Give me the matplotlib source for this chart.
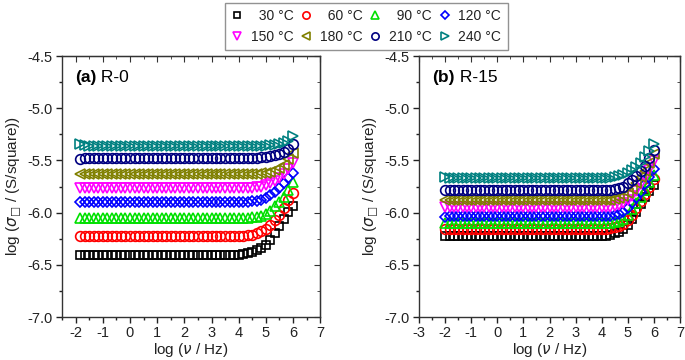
import matplotlib
matplotlib.use("Agg")
import matplotlib.pyplot as plt
from matplotlib.ticker import MultipleLocator

plt.rcParams["font.family"] = ["Liberation Sans", "DejaVu Sans"]
plt.rcParams["axes.unicode_minus"] = False

# figure space pads the two-digit labels so they line up on the right
TEMPS = ["\u200730 °C", "\u200760 °C", "\u200790 °C", "120 °C",
         "150 °C", "180 °C", "210 °C", "240 °C"]

# log frequency, R-0 sweep
x_r0 = [
    -1.83, -1.67, -1.50, -1.33, -1.17, -1.00, -0.83, -0.67, -0.50, -0.33, -0.17, 0.00,
    0.17, 0.33, 0.50, 0.67, 0.83, 1.00, 1.17, 1.33, 1.50, 1.67, 1.83, 2.00,
    2.17, 2.33, 2.50, 2.67, 2.83, 3.00, 3.17, 3.33, 3.50, 3.67, 3.83, 4.00,
    4.17, 4.33, 4.50, 4.67, 4.83, 5.00, 5.17, 5.33, 5.50, 5.67, 5.83, 6.00,
]

# log frequency, R-15 sweep
x_r15 = [
    -2.00, -1.83, -1.67, -1.50, -1.33, -1.17, -1.00, -0.83, -0.67, -0.50, -0.33, -0.17,
    0.00, 0.17, 0.33, 0.50, 0.67, 0.83, 1.00, 1.17, 1.33, 1.50, 1.67, 1.83,
    2.00, 2.17, 2.33, 2.50, 2.67, 2.83, 3.00, 3.17, 3.33, 3.50, 3.67, 3.83,
    4.00, 4.17, 4.33, 4.50, 4.67, 4.83, 5.00, 5.17, 5.33, 5.50, 5.67, 5.83,
    6.00,
]

# R-0 conductivity, one list per temperature
r0_30 = [
    -6.41, -6.41, -6.41, -6.41, -6.41, -6.41, -6.41,
    -6.41, -6.41, -6.41, -6.41, -6.41, -6.41, -6.41,
    -6.41, -6.41, -6.41, -6.41, -6.41, -6.41, -6.41,
    -6.41, -6.41, -6.41, -6.41, -6.41, -6.41, -6.41,
    -6.41, -6.41, -6.41, -6.41, -6.41, -6.41, -6.41,
    -6.41, -6.40, -6.39, -6.38, -6.36, -6.34, -6.31, -6.26, -6.20, -6.13, -6.06, -5.99, -5.94,
]
r0_60 = [
    -6.22, -6.22, -6.22, -6.22, -6.22, -6.22, -6.22,
    -6.22, -6.22, -6.22, -6.22, -6.22, -6.22, -6.22,
    -6.22, -6.22, -6.22, -6.22, -6.22, -6.22, -6.22,
    -6.22, -6.22, -6.22, -6.22, -6.22, -6.22, -6.22,
    -6.22, -6.22, -6.22, -6.22, -6.22, -6.22, -6.22,
    -6.22, -6.22, -6.21, -6.21, -6.20, -6.18, -6.16, -6.12, -6.07, -6.02, -5.96, -5.88, -5.81,
]
r0_90 = [
    -6.05, -6.05, -6.05, -6.05, -6.05, -6.05, -6.05,
    -6.05, -6.05, -6.05, -6.05, -6.05, -6.05, -6.05,
    -6.05, -6.05, -6.05, -6.05, -6.05, -6.05, -6.05,
    -6.05, -6.05, -6.05, -6.05, -6.05, -6.05, -6.05,
    -6.05, -6.05, -6.05, -6.05, -6.05, -6.05, -6.05,
    -6.05, -6.05, -6.05, -6.04, -6.04, -6.03, -6.01, -5.98, -5.94, -5.90, -5.85, -5.78, -5.71,
]
r0_120 = [
    -5.90, -5.90, -5.90, -5.90, -5.90, -5.90, -5.90,
    -5.90, -5.90, -5.90, -5.90, -5.90, -5.90, -5.90,
    -5.90, -5.90, -5.90, -5.90, -5.90, -5.90, -5.90,
    -5.90, -5.90, -5.90, -5.90, -5.90, -5.90, -5.90,
    -5.90, -5.90, -5.90, -5.90, -5.90, -5.90, -5.90,
    -5.90, -5.90, -5.90, -5.89, -5.89, -5.88, -5.86, -5.83, -5.80, -5.76, -5.72, -5.67, -5.62,
]
r0_150 = [
    -5.76, -5.76, -5.76, -5.76, -5.76, -5.76, -5.76,
    -5.76, -5.76, -5.76, -5.76, -5.76, -5.76, -5.76,
    -5.76, -5.76, -5.76, -5.76, -5.76, -5.76, -5.76,
    -5.76, -5.76, -5.76, -5.76, -5.76, -5.76, -5.76,
    -5.76, -5.76, -5.76, -5.76, -5.76, -5.76, -5.76,
    -5.76, -5.76, -5.76, -5.76, -5.75, -5.75, -5.74, -5.72, -5.70, -5.67, -5.63, -5.58, -5.52,
]
r0_180 = [
    -5.63, -5.63, -5.63, -5.63, -5.63, -5.63, -5.63,
    -5.63, -5.63, -5.63, -5.63, -5.63, -5.63, -5.63,
    -5.63, -5.63, -5.63, -5.63, -5.63, -5.63, -5.63,
    -5.63, -5.63, -5.63, -5.63, -5.63, -5.63, -5.63,
    -5.63, -5.63, -5.63, -5.63, -5.63, -5.63, -5.63,
    -5.63, -5.63, -5.63, -5.63, -5.63, -5.62, -5.62, -5.61, -5.59, -5.57, -5.54, -5.49, -5.43,
]
r0_210 = [
    -5.49, -5.48, -5.48, -5.48, -5.48, -5.48, -5.48,
    -5.48, -5.48, -5.48, -5.48, -5.48, -5.48, -5.48,
    -5.48, -5.48, -5.48, -5.48, -5.48, -5.48, -5.48,
    -5.48, -5.48, -5.48, -5.48, -5.48, -5.48, -5.48,
    -5.48, -5.48, -5.48, -5.48, -5.48, -5.48, -5.48,
    -5.48, -5.48, -5.48, -5.48, -5.48, -5.47, -5.47, -5.46, -5.45, -5.44, -5.42, -5.39, -5.34,
]
r0_240 = [
    -5.34, -5.35, -5.36, -5.36, -5.36, -5.36, -5.36,
    -5.36, -5.36, -5.36, -5.36, -5.36, -5.36, -5.36,
    -5.36, -5.36, -5.36, -5.36, -5.36, -5.36, -5.36,
    -5.36, -5.36, -5.36, -5.36, -5.36, -5.36, -5.36,
    -5.36, -5.36, -5.36, -5.36, -5.36, -5.36, -5.36,
    -5.36, -5.36, -5.36, -5.36, -5.36, -5.36, -5.36, -5.35, -5.35, -5.34, -5.33, -5.31, -5.27,
]

# R-15 conductivity
r15_30 = [
    -6.22, -6.22, -6.22, -6.22, -6.22, -6.22,
    -6.22, -6.22, -6.22, -6.22, -6.22, -6.22,
    -6.22, -6.22, -6.22, -6.22, -6.22, -6.22,
    -6.22, -6.22, -6.22, -6.22, -6.22, -6.22,
    -6.22, -6.22, -6.22, -6.22, -6.22, -6.22,
    -6.22, -6.22, -6.22, -6.22, -6.22, -6.22,
    -6.22, -6.22, -6.21, -6.20, -6.19, -6.16, -6.12, -6.06, -5.99, -5.92, -5.85, -5.79, -5.74,
]
r15_60 = [
    -6.16, -6.16, -6.16, -6.16, -6.16, -6.16,
    -6.16, -6.16, -6.16, -6.16, -6.16, -6.16,
    -6.16, -6.16, -6.16, -6.16, -6.16, -6.16,
    -6.16, -6.16, -6.16, -6.16, -6.16, -6.16,
    -6.16, -6.16, -6.16, -6.16, -6.16, -6.16,
    -6.16, -6.16, -6.16, -6.16, -6.16, -6.16,
    -6.16, -6.16, -6.15, -6.14, -6.13, -6.11, -6.07, -6.02, -5.96, -5.89, -5.82, -5.75, -5.68,
]
r15_90 = [
    -6.10, -6.10, -6.10, -6.10, -6.10, -6.10,
    -6.10, -6.10, -6.10, -6.10, -6.10, -6.10,
    -6.10, -6.10, -6.10, -6.10, -6.10, -6.10,
    -6.10, -6.10, -6.10, -6.10, -6.10, -6.10,
    -6.10, -6.10, -6.10, -6.10, -6.10, -6.10,
    -6.10, -6.10, -6.10, -6.10, -6.10, -6.10,
    -6.10, -6.10, -6.10, -6.09, -6.08, -6.06, -6.02, -5.97, -5.91, -5.85, -5.78, -5.71, -5.64,
]
r15_120 = [
    -6.04, -6.03, -6.03, -6.03, -6.03, -6.03,
    -6.03, -6.03, -6.03, -6.03, -6.03, -6.03,
    -6.03, -6.03, -6.03, -6.03, -6.03, -6.03,
    -6.03, -6.03, -6.03, -6.03, -6.03, -6.03,
    -6.03, -6.03, -6.03, -6.03, -6.03, -6.03,
    -6.03, -6.03, -6.03, -6.03, -6.03, -6.03,
    -6.03, -6.03, -6.03, -6.02, -6.01, -5.99, -5.96, -5.91, -5.86, -5.80, -5.73, -5.66, -5.58,
]
r15_150 = [
    -5.95, -5.95, -5.95, -5.95, -5.95, -5.95,
    -5.95, -5.95, -5.95, -5.95, -5.95, -5.95,
    -5.95, -5.95, -5.95, -5.95, -5.95, -5.95,
    -5.95, -5.95, -5.95, -5.95, -5.95, -5.95,
    -5.95, -5.95, -5.95, -5.95, -5.95, -5.95,
    -5.95, -5.95, -5.95, -5.95, -5.95, -5.95,
    -5.95, -5.95, -5.95, -5.94, -5.93, -5.91, -5.88, -5.84, -5.79, -5.73, -5.67, -5.59, -5.51,
]
r15_180 = [
    -5.88, -5.88, -5.88, -5.88, -5.88, -5.88,
    -5.88, -5.88, -5.88, -5.88, -5.88, -5.88,
    -5.88, -5.88, -5.88, -5.88, -5.88, -5.88,
    -5.88, -5.88, -5.88, -5.88, -5.88, -5.88,
    -5.88, -5.88, -5.88, -5.88, -5.88, -5.88,
    -5.88, -5.88, -5.88, -5.88, -5.88, -5.88,
    -5.88, -5.88, -5.88, -5.87, -5.86, -5.84, -5.81, -5.77, -5.72, -5.66, -5.60, -5.52, -5.44,
]
r15_210 = [
    -5.78, -5.78, -5.78, -5.78, -5.78, -5.78,
    -5.78, -5.78, -5.78, -5.78, -5.78, -5.78,
    -5.78, -5.78, -5.78, -5.78, -5.78, -5.78,
    -5.78, -5.78, -5.78, -5.78, -5.78, -5.78,
    -5.78, -5.78, -5.78, -5.78, -5.78, -5.78,
    -5.78, -5.78, -5.78, -5.78, -5.78, -5.78,
    -5.78, -5.78, -5.78, -5.77, -5.76, -5.75, -5.72, -5.69, -5.65, -5.60, -5.55, -5.48, -5.40,
]
r15_240 = [
    -5.66, -5.67, -5.67, -5.67, -5.67, -5.67,
    -5.67, -5.67, -5.67, -5.67, -5.67, -5.67,
    -5.67, -5.67, -5.67, -5.67, -5.67, -5.67,
    -5.67, -5.67, -5.67, -5.67, -5.67, -5.67,
    -5.67, -5.67, -5.67, -5.67, -5.67, -5.67,
    -5.67, -5.67, -5.67, -5.67, -5.67, -5.67,
    -5.67, -5.67, -5.67, -5.66, -5.65, -5.64, -5.62, -5.59, -5.56, -5.52, -5.47, -5.41, -5.34,
]

R0_SERIES = [r0_30, r0_60, r0_90, r0_120, r0_150, r0_180, r0_210, r0_240]
R15_SERIES = [r15_30, r15_60, r15_90, r15_120, r15_150, r15_180, r15_210, r15_240]

COLORS = ["#000000", "#ff0000", "#00e000", "#0000ff", "#ff00ff", "#808000", "#000080", "#008080"]
MARKERS = ["s", "o", "^", "D", "v", "<", "o", ">"]
SIZES = [6, 7, 7.5, 5.5, 7.5, 7.5, 7, 7.5]

TEXT_COLOR = "#222222"


def style_axes(ax, xlim, panel_bold, panel_name):
    ax.set_xlim(*xlim)
    ax.set_ylim(-7.0, -4.5)
    ax.xaxis.set_major_locator(MultipleLocator(1))
    ax.xaxis.set_minor_locator(MultipleLocator(0.5))
    ax.yaxis.set_major_locator(MultipleLocator(0.5))
    ax.yaxis.set_minor_locator(MultipleLocator(0.25))
    ax.yaxis.set_major_formatter(plt.FuncFormatter(lambda v, _: f"{v:.1f}"))
    ax.tick_params(which="both", direction="out", colors=TEXT_COLOR,
                   labelsize=10.5, width=1.0, pad=2.5)
    ax.tick_params(which="major", length=4)
    ax.tick_params(which="minor", length=2.5)
    for sp in ax.spines.values():
        sp.set_color("#333333")
        sp.set_linewidth(1.0)

    # mirrored ticks on top and right point inward
    top = ax.secondary_xaxis("top")
    top.xaxis.set_major_locator(MultipleLocator(1))
    top.xaxis.set_minor_locator(MultipleLocator(0.5))
    top.tick_params(which="both", direction="in", labeltop=False, colors="#333333")
    top.tick_params(which="major", length=4)
    top.tick_params(which="minor", length=2.5)
    right = ax.secondary_yaxis("right")
    right.yaxis.set_major_locator(MultipleLocator(0.5))
    right.yaxis.set_minor_locator(MultipleLocator(0.25))
    right.tick_params(which="both", direction="in", labelright=False, colors="#333333")
    right.tick_params(which="major", length=4)
    right.tick_params(which="minor", length=2.5)

    ax.set_xlabel(r"log ($\nu$ / Hz)", fontsize=11, color=TEXT_COLOR, labelpad=1)
    ax.set_ylabel(r"log ($\sigma_{□}$ / (S/square))", fontsize=11, color=TEXT_COLOR, labelpad=3)

    x0 = xlim[0] + 0.05 * (xlim[1] - xlim[0])
    t = ax.text(x0, -4.71, panel_bold, fontsize=12.5, fontweight="bold", color="black",
                va="center", ha="left")
    ax.annotate(" " + panel_name, xycoords=t, xy=(1, 0.5), va="center", ha="left",
                fontsize=12.5, color="black")


def draw(ax, xs, series):
    handles = []
    for ys, c, m, s, lab in zip(series, COLORS, MARKERS, SIZES, TEMPS):
        (h,) = ax.plot(xs, ys, linestyle="none", marker=m, markersize=s,
                       markerfacecolor="none", markeredgecolor=c,
                       markeredgewidth=1.2, label=lab)
        handles.append(h)
    return handles


def main() -> None:
    fig = plt.figure(figsize=(6.85, 3.6), dpi=100)
    ax_a = fig.add_axes([0.0905, 0.1194, 0.377, 0.725])
    ax_b = fig.add_axes([0.6117, 0.1194, 0.381, 0.725])

    handles = draw(ax_a, x_r0, R0_SERIES)
    draw(ax_b, x_r15, R15_SERIES)

    style_axes(ax_a, (-2.5, 7.0), "(a)", "R-0")
    style_axes(ax_b, (-3.0, 7.0), "(b)", "R-15")

    # legend fills column by column; reorder so rows read 30..120 then 150..240
    order = [0, 4, 1, 5, 2, 6, 3, 7]
    leg = fig.legend(handles=[handles[i] for i in order], loc="upper center", ncol=4,
                     bbox_to_anchor=(0.535, 0.996), borderaxespad=0.1, fontsize=10,
                     frameon=True, fancybox=False, edgecolor="#777777",
                     handlelength=0.8, handletextpad=0.6, columnspacing=0.5,
                     borderpad=0.45, labelspacing=0.5, markerscale=0.75)
    leg.get_frame().set_linewidth(1.0)
    for txt in leg.get_texts():
        txt.set_color(TEXT_COLOR)

    fig.savefig("out.png", dpi=100)
    plt.close(fig)


if __name__ == "__main__":
    main()
